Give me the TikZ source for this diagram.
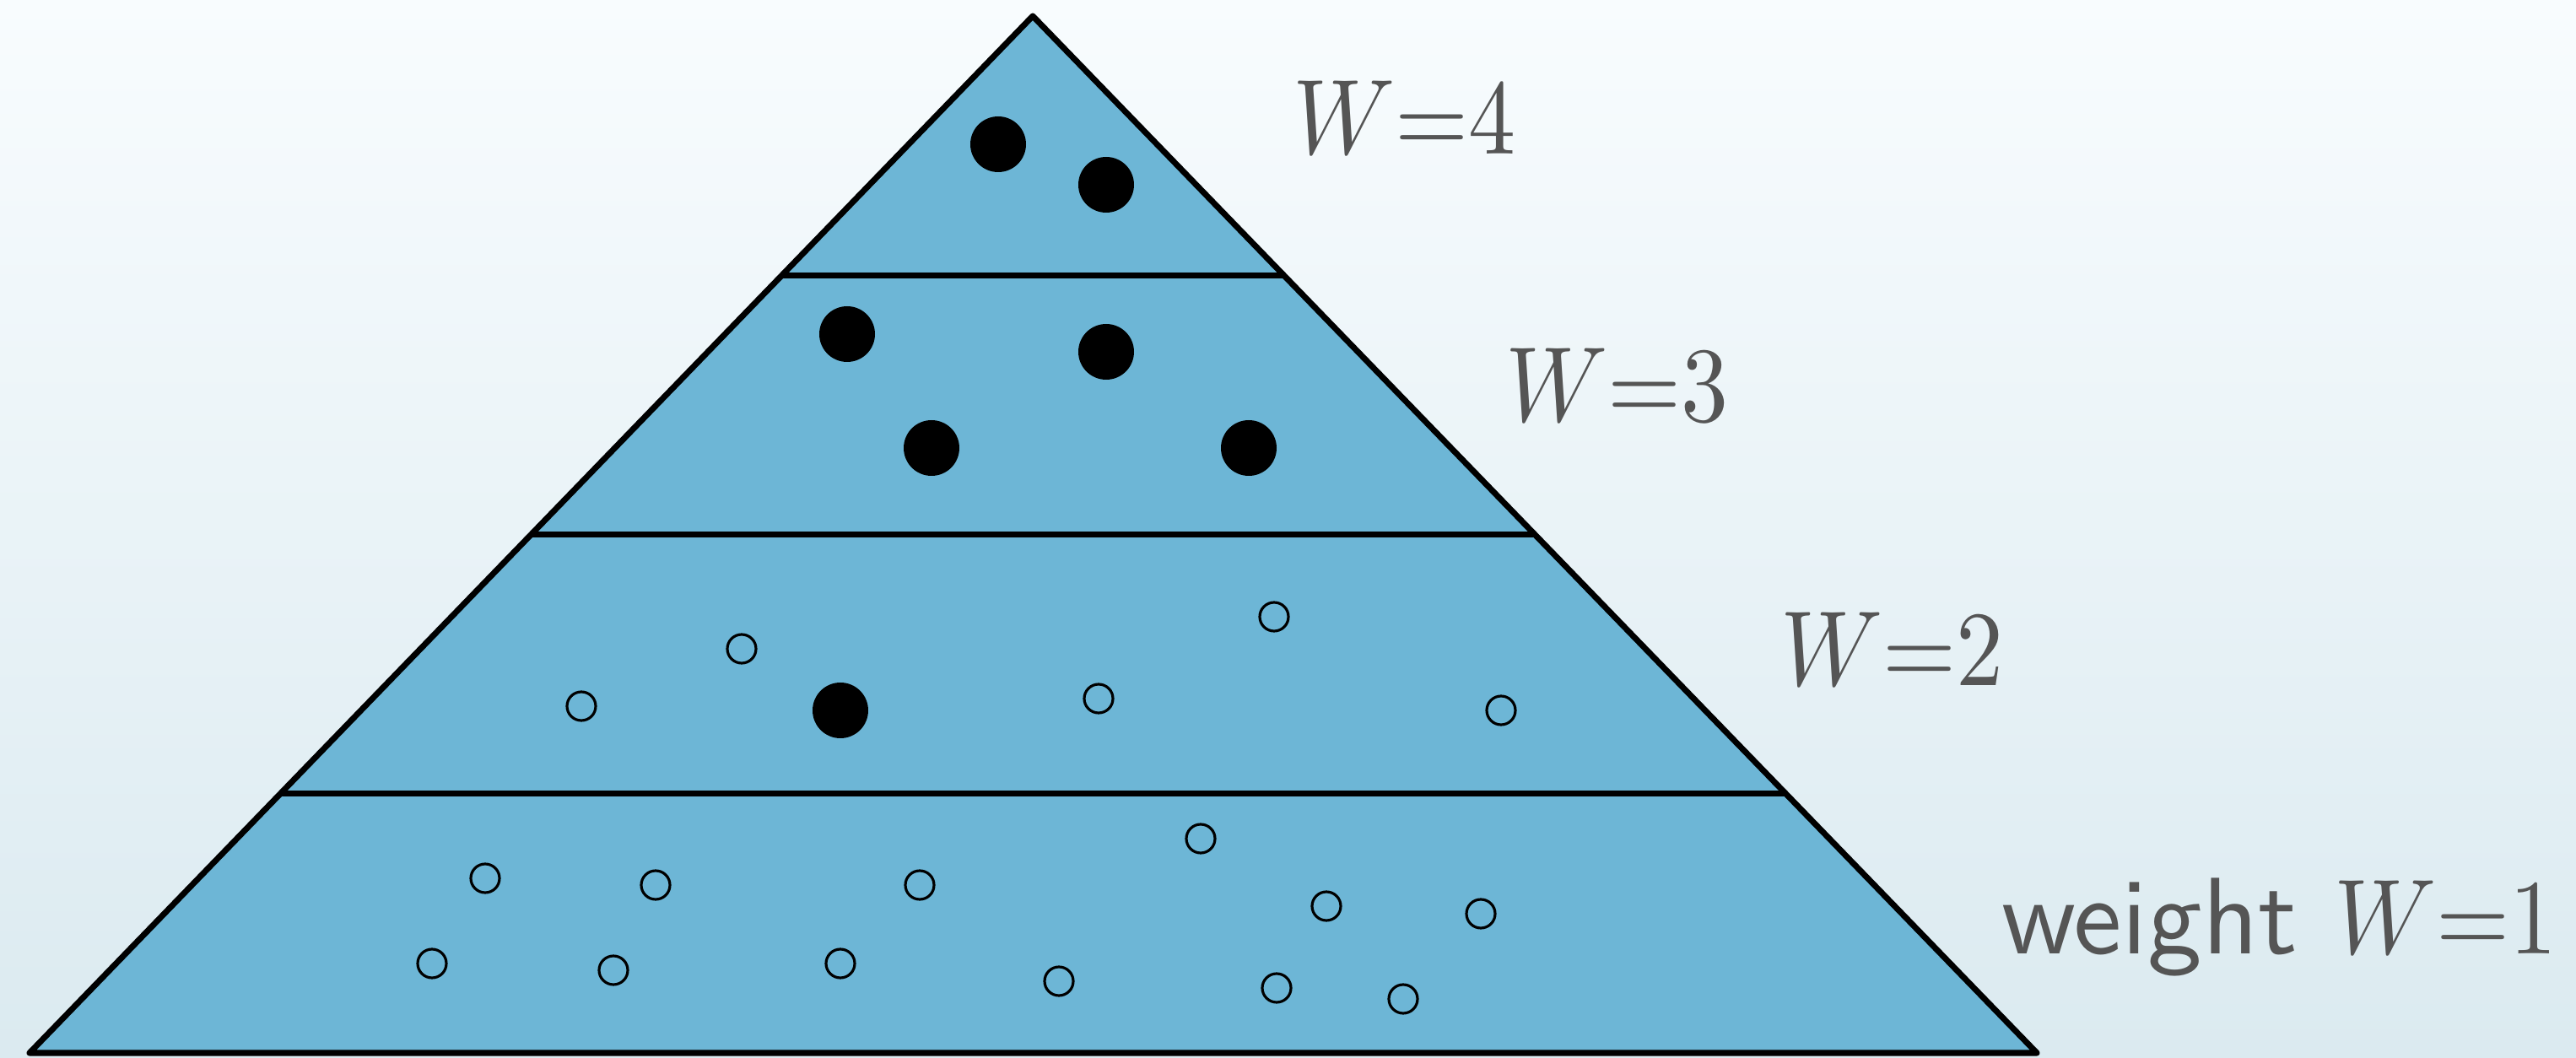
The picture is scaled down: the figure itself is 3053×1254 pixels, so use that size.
\documentclass[tikz,border=0pt]{standalone}
\usepackage{tikz}
\usetikzlibrary{calc}
\definecolor{pyrblue}{RGB}{109,182,214}
\definecolor{bgtop}{RGB}{248,252,254}
\definecolor{bgmid}{RGB}{244,250,252}
\definecolor{bgbot}{RGB}{219,234,240}
\definecolor{labelgray}{RGB}{85,85,85}
\newcommand{\weq}[1]{\scalebox{0.885}[1]{$W{=}#1$}}

\begin{document}
\begin{tikzpicture}[
      x=0.01cm,y=0.01cm,
      edge/.style={draw, line width=2pt, line join=round},
      dot/.style={fill=black},
      ring/.style={draw, line width=0.9pt},
      wlabel/.style={inner sep=0, anchor=base west, text=labelgray, scale=3.6, font=\fontsize{10}{12}\selectfont}
    ]
      \shade[top color=bgtop, middle color=bgmid, bottom color=bgbot] (0,0) rectangle (3053,1254);
      \useasboundingbox (0,0) rectangle (3053,1254);
      \coordinate (top) at (1224,1235);
      \coordinate (bl) at (35,6);
      \coordinate (br) at (2414,6);
      \fill[pyrblue] (top) -- (bl) -- (br) -- cycle;
      \foreach \t in {0.25,0.5,0.75}
        \draw[edge] ($(top)!\t!(bl)$) -- ($(top)!\t!(br)$);
      \draw[edge] (top) -- (bl) -- (br) -- cycle;
      \foreach \p in {(1183,1083),(1311,1035),(1004,858),(1311,837),(1104,723),(1480,723),(996,412)}
        \fill[dot] \p circle (33);
      \foreach \p in {(879,485),(689,417),(1510,523),(1302,426),(1779,412),
                      (575,213),(777,205),(1090,205),(1423,260),(1572,180),(1755,171),
                      (512,112),(727,104),(996,112),(1255,91),(1513,83),(1663,70)}
        \draw[ring] \p circle (17);
      \node[wlabel] (w4) at (1530,1071) {\weq{4}};
      \node[wlabel] (w3) at (1782,754) {\weq{3}};
      \node[wlabel] (w2) at (2108,441) {\weq{2}};
      \node[wlabel] (w1) at (2370,124) {\sffamily\fontsize{10.2}{13}\selectfont weight \weq{1}};
    \end{tikzpicture}
\end{document}
